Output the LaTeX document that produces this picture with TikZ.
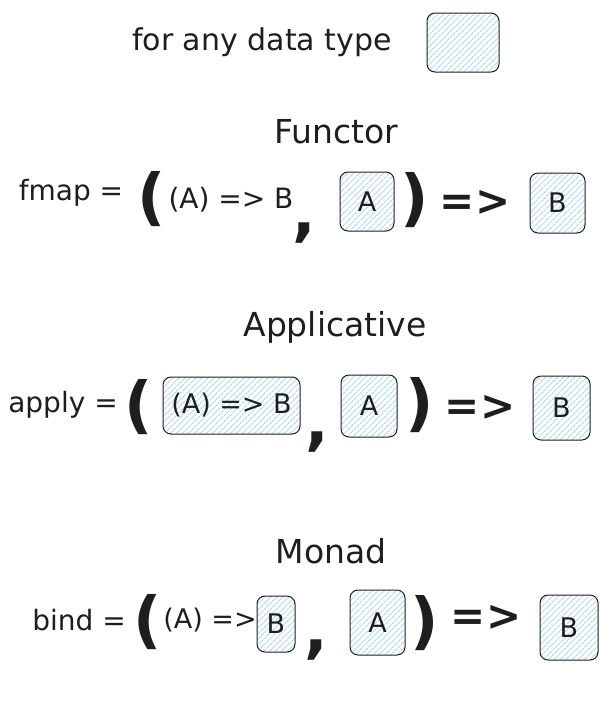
\documentclass[tikz,border=0pt]{standalone}
\usepackage{fontspec}
\setmainfont{DejaVu Sans}
\usetikzlibrary{patterns.meta}
\definecolor{ink}{HTML}{1E1E1E}
\definecolor{hatch}{HTML}{A5D8FF}

\begin{document}
\begin{tikzpicture}[
      x=1pt, y=-1pt,
      every node/.style={text=ink, inner sep=0pt},
      Body/.style={font=\fontsize{28}{30}\selectfont},
      Title/.style={font=\fontsize{33}{36}\selectfont},
      Big/.style={font=\fontsize{62}{66}\selectfont\bfseries},
      Arrow/.style={font=\fontsize{42}{46}\selectfont\bfseries},
      DataBox/.style={
        draw=ink, line width=1pt, rounded corners=8pt,
        pattern={Lines[angle=45, distance=4pt, line width=0.9pt]},
        pattern color=hatch,
        font=\fontsize{27}{30}\selectfont,
      },
      ]
      \useasboundingbox (0,0) rectangle (606,724);

      \node[Body, font=\fontsize{30}{32}\selectfont] (any) at (262,42) {for any data type};
      \node[DataBox, minimum width=72pt, minimum height=59pt] (key) at (463,42.5) {};

      \node[Title] (F) at (336,132) {Functor};
      \node[Body] (fmap) at (71,193) {fmap =};
      \node[Big] (fo) at (152,199) {(};
      \node[Body] (ff) at (231,200) {(A) => B};
      \node[Big] (fc) at (304,233) {,};
      \node[DataBox, minimum width=54pt, minimum height=59pt] (fA) at (367,201.5) {A};
      \node[Big] (fx) at (415,200) {)};
      \node[Arrow] (fr) at (475,203) {=>};
      \node[DataBox, minimum width=55pt, minimum height=60pt] (fB) at (557.5,203) {B};

      \node[Title] (Ap) at (335,327) {Applicative};
      \node[Body] (apply) at (63,405) {apply =};
      \node[Big] (ao) at (139,407) {(};
      \node[DataBox, minimum width=137pt, minimum height=57pt] (af) at (231.5,405.5) {(A) => B};
      \node[Big] (ac) at (317,442) {,};
      \node[DataBox, minimum width=56pt, minimum height=62pt] (aA) at (369,406) {A};
      \node[Big] (ax) at (420,405) {)};
      \node[Arrow] (ar) at (480,408) {=>};
      \node[DataBox, minimum width=57pt, minimum height=64pt] (aB) at (561.5,408) {B};

      \node[Title] (M) at (331,551) {Monad};
      \node[Body] (bind) at (79,620) {bind =};
      \node[Big] (bo) at (148,622) {(};
      \node[Body, font=\fontsize{27}{30}\selectfont] (bf) at (210,620) {(A) =>};
      \node[DataBox, minimum width=38pt, minimum height=56pt] (bfB) at (276,624) {B};
      \node[Big] (bc) at (316,650) {,};
      \node[DataBox, minimum width=55pt, minimum height=65pt] (bA) at (377.5,622.5) {A};
      \node[Big] (bx) at (425,623) {)};
      \node[Arrow] (br) at (486,618) {=>};
      \node[DataBox, minimum width=58pt, minimum height=65pt] (bB) at (569,627.5) {B};
    \end{tikzpicture}
\end{document}
